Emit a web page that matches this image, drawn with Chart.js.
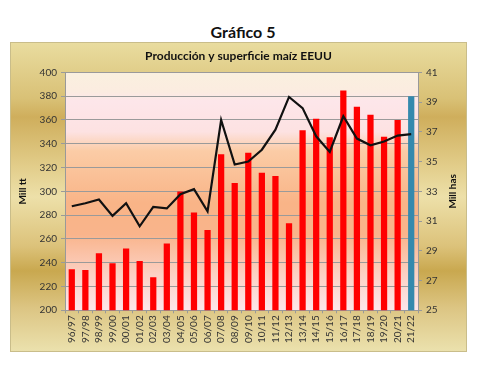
<!DOCTYPE html>
<html>
<head>
<meta charset="utf-8">
<script src="https://cdn.jsdelivr.net/npm/chart.js@4"></script>
<style>
  body { margin: 0; background: #fff; width: 480px; height: 369px; position: relative; font-family: Lato, "Open Sans", sans-serif; }
  #titulo { position: absolute; left: 0; width: 486px; top: 22px; text-align: center; font-weight: bold; font-size: 16px; color: #111; }
  #caja {
    position: absolute; left: 10px; top: 42px; width: 457px; height: 310px;
    border: 1px solid #c9bd8a; box-sizing: border-box;
    background: linear-gradient(to bottom, #e9dc9f 0%, #d9c176 18%, #cfae5c 24%, #e2cd8a 40%, #ede0a9 50%, #dcc27a 66%, #c9a84f 74%, #dcc583 86%, #ebe1ad 100%);
  }
  #caja canvas { position: absolute; left: 0; top: 0; }
</style>
</head>
<body>
<div id="titulo">Gráfico 5</div>
<div id="caja"><canvas id="grafico" width="455" height="308"></canvas></div>
<script>
// Campañas
const campanias = ["96/97","97/98","98/99","99/00","00/01","01/02","02/03","03/04","04/05","05/06","06/07","07/08","08/09","09/10","10/11","11/12","12/13","13/14","14/15","15/16","16/17","17/18","18/19","19/20","20/21","21/22"];

// Producción (millones de toneladas)
const produccion = [234.5, 233.9, 247.9, 239.5, 251.9, 241.4, 227.8, 256.2, 299.9, 282.3, 267.5, 331.2, 307.1, 332.5, 315.6, 312.8, 273.2, 351.3, 361.1, 345.5, 384.8, 371.1, 364.3, 345.9, 360.0, 380.0];

// Superficie (millones de hectáreas)
const superficie = [32.0, 32.2, 32.45, 31.35, 32.2, 30.65, 31.95, 31.85, 32.8, 33.15, 31.65, 37.8, 34.8, 35.0, 35.8, 37.15, 39.35, 38.6, 36.7, 35.65, 38.05, 36.55, 36.1, 36.35, 36.75, 36.85];

// Última campaña en azul (estimación)
const coloresBarras = campanias.map((c, i) => i === campanias.length - 1 ? '#3589ad' : '#ff0000');

const fuente = "Lato, 'Open Sans', sans-serif";

// Fondo degradado del área de trazado
const fondoArea = {
    id: 'fondoArea',
    beforeDraw(chart) {
        const { ctx, chartArea: a } = chart;
        const g = ctx.createLinearGradient(0, a.top, 0, a.bottom);
        g.addColorStop(0, '#faf0df');
        g.addColorStop(0.08, '#fbece0');
        g.addColorStop(0.12, '#fde6ea');
        g.addColorStop(0.25, '#fde2e2');
        g.addColorStop(0.33, '#fbcca6');
        g.addColorStop(0.55, '#f9b487');
        g.addColorStop(0.68, '#f9b48b');
        g.addColorStop(0.85, '#fcd1c4');
        g.addColorStop(1, '#fde6ea');
        ctx.save();
        ctx.fillStyle = g;
        ctx.fillRect(a.left, a.top, a.right - a.left, a.bottom - a.top);
        ctx.restore();
    }
};

// Título del eje derecho, leído de abajo hacia arriba como en Excel
const tituloDerecho = {
    id: 'tituloDerecho',
    afterDraw(chart) {
        const { ctx, chartArea: a } = chart;
        ctx.save();
        ctx.translate(442, (a.top + a.bottom) / 2);
        ctx.rotate(-Math.PI / 2);
        ctx.font = 'bold 10px ' + fuente;
        ctx.fillStyle = '#111';
        ctx.textAlign = 'center';
        ctx.textBaseline = 'middle';
        ctx.fillText('Mill has', 0, 0);
        ctx.restore();
    }
};

new Chart(document.getElementById('grafico'), {
    data: {
        labels: campanias,
        datasets: [
            {
                type: 'line',
                data: superficie,
                yAxisID: 'y2',
                borderColor: '#111',
                borderWidth: 2.2,
                pointRadius: 0,
                tension: 0,
                order: 0
            },
            {
                type: 'bar',
                data: produccion,
                yAxisID: 'y',
                backgroundColor: coloresBarras,
                barPercentage: 0.46,
                categoryPercentage: 1,
                order: 1
            }
        ]
    },
    options: {
        responsive: false,
        animation: false,
        layout: { padding: { top: 4, bottom: 6 } },
        plugins: {
            legend: { display: false },
            tooltip: { enabled: false },
            title: {
                display: true,
                text: 'Producción y superficie maíz EEUU',
                color: '#111',
                font: { family: fuente, size: 12, weight: 'bold' },
                padding: { top: 2, bottom: 9 }
            }
        },
        scales: {
            x: {
                grid: { display: true, drawOnChartArea: false, offset: true, tickLength: 3, color: '#999' },
                border: { color: '#999' },
                ticks: {
                    minRotation: 90, maxRotation: 90, autoSkip: false,
                    color: '#333', padding: 2,
                    font: { family: fuente, size: 10 }
                }
            },
            y: {
                position: 'left',
                min: 200, max: 400,
                afterFit(s) { s.width = 54; },
                ticks: { stepSize: 20, color: '#333', padding: 4, font: { family: fuente, size: 10 } },
                grid: { color: '#9a9a9a', tickLength: 4 },
                border: { color: '#999' },
                title: { display: true, text: 'Mill tt', color: '#111', font: { family: fuente, size: 10, weight: 'bold' }, padding: { top: 6, bottom: 2 } }
            },
            y2: {
                position: 'right',
                min: 25, max: 41,
                afterFit(s) { s.width = 48; },
                ticks: { stepSize: 2, color: '#333', padding: 4, font: { family: fuente, size: 10 } },
                grid: { drawOnChartArea: false, color: '#999', tickLength: 4 },
                border: { color: '#999' }
            }
        }
    },
    plugins: [fondoArea, tituloDerecho]
});
</script>
</body>
</html>
